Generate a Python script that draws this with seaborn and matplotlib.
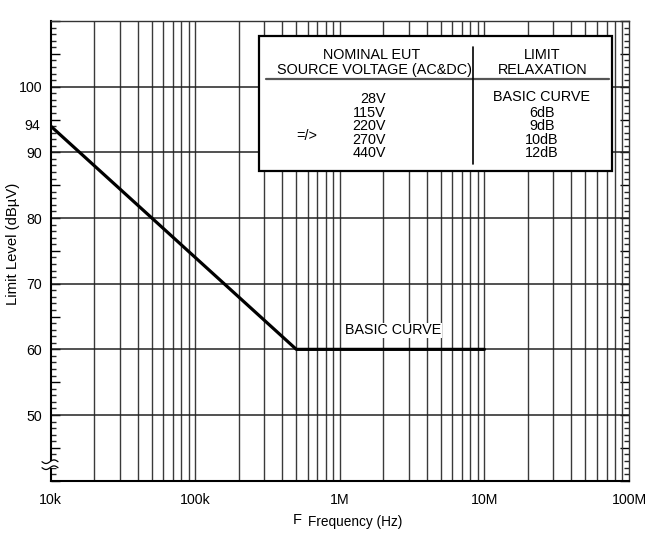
import numpy as np
import matplotlib
matplotlib.use("Agg")
import matplotlib.pyplot as plt
import matplotlib.ticker as mticker
import seaborn as sns

# ---- data ----
freq_hz = [1e4, 5e5, 1e7]
limit_dbuv = [94, 60, 60]
x_tick_vals = [1e4, 1e5, 1e6, 1e7, 1e8]
x_tick_labels = ["10k", "100k", "1M", "10M", "100M"]
y_label_vals = [50, 60, 70, 80, 90, 100]
voltages = ["28V", "115V", "220V", "270V", "440V"]
relaxations = ["BASIC CURVE", "6dB", "9dB", "10dB", "12dB"]

sns.set_theme(style="white")
plt.rcParams["font.family"] = ["Liberation Sans", "DejaVu Sans"]

W, H = 656, 545
fig = plt.figure(figsize=(W / 100, H / 100), dpi=100)
L, R, T, B = 50.7, 629.0, 21.0, 480.7
ax = fig.add_axes([L / W, (H - B) / H, (R - L) / W, (B - T) / H])

def ax_xy(px, py):
    return (px - L) / (R - L), (B - py) / (B - T)

sns.lineplot(x=freq_hz, y=limit_dbuv, ax=ax, color="black", lw=2.3, zorder=5)

ax.set_xscale("log")
ax.set_xlim(1e4, 1e8)
ax.set_ylim(40, 110)

# grid
for xv in [m * 10 ** e for e in range(4, 8) for m in range(1, 10)][1:]:
    ax.axvline(xv, color="#3a3a3a", lw=1.0, zorder=1)
for yv in range(50, 111, 10):
    ax.axhline(yv, color="#222222", lw=1.1, zorder=1)

# x ticks
ax.xaxis.set_major_locator(mticker.FixedLocator(x_tick_vals))
ax.xaxis.set_major_formatter(mticker.FixedFormatter(x_tick_labels))
ax.xaxis.set_minor_locator(mticker.NullLocator())
ax.tick_params(axis="x", which="both", length=0, pad=9, labelsize=10.2, colors="black")

# y ticks
ax.yaxis.set_major_locator(mticker.MultipleLocator(5))
ax.yaxis.set_minor_locator(mticker.MultipleLocator(1))
ax.yaxis.set_major_formatter(mticker.FuncFormatter(
    lambda v, p: f"{int(round(v))}" if int(round(v)) in y_label_vals else ""))
ax.tick_params(axis="y", which="major", direction="in", length=6.5, width=1.0,
               left=True, right=True, labelsize=10.2, pad=6, colors="black")
ax.tick_params(axis="y", which="minor", direction="in", length=3.5, width=1.0,
               left=True, right=True)
for lab in ax.get_yticklabels() + ax.get_xticklabels():
    lab.set_color("black")
ax.text(-0.018, 94, "94", transform=ax.get_yaxis_transform(), ha="right",
        va="center", fontsize=10.2, color="black")

for s in ["left", "bottom"]:
    ax.spines[s].set_color("black")
    ax.spines[s].set_linewidth(1.5)
for s in ["top", "right"]:
    ax.spines[s].set_color("#333333")
    ax.spines[s].set_linewidth(1.0)

# table box
x0, y0 = ax_xy(259, 171)
x1, y1 = ax_xy(612, 36)
ax.add_patch(plt.Rectangle((x0, y0), x1 - x0, y1 - y0, transform=ax.transAxes,
                           facecolor="white", edgecolor="black", lw=1.6, zorder=6))
fs = 10.4
def t(px, py, s, ha="center"):
    xx, yy = ax_xy(px, py)
    ax.text(xx, yy, s, transform=ax.transAxes, ha=ha, va="center",
            fontsize=fs, color="black", zorder=7)

t(371.7, 55, "NOMINAL EUT")
t(374.5, 70, "SOURCE VOLTAGE (AC&DC)")
t(541.7, 55, "LIMIT")
t(543, 70, "RELAXATION")
hx0, hy = ax_xy(266, 79.3)
hx1, _ = ax_xy(609, 79.3)
ax.plot([hx0, hx1], [hy, hy], transform=ax.transAxes, color="#555555", lw=1.6, zorder=7)
vx, vy0 = ax_xy(473.3, 164)
_, vy1 = ax_xy(473.3, 46.7)
ax.plot([vx, vx], [vy0, vy1], transform=ax.transAxes, color="black", lw=1.2, zorder=7)
vy_rows = [99.3, 112.6, 126.0, 139.5, 153.3]
rel_rows = [96.7, 112.6, 126.0, 139.5, 153.3]
for v, py in zip(voltages, vy_rows):
    t(386, py, v, ha="right")
for r, py in zip(relaxations, rel_rows):
    t(542, py, r)
t(306.7, 136, "=/>")

# BASIC CURVE label on curve
ax.text(2.33e6, 62.9, "BASIC CURVE", ha="center", va="center", fontsize=10.3,
        color="black", zorder=8,
        bbox=dict(facecolor="white", edgecolor="none", pad=0.5))

# axis labels
fig.text(293 / W, 1 - 520 / H, "F", ha="left", va="center", fontsize=10.5, color="black")
fig.text(308 / W, 1 - 521.7 / H, "Frequency (Hz)", ha="left", va="center",
         fontsize=9.8, color="black")
fig.text(13 / W, 1 - 244 / H, "Limit Level (dB\u00b5V)", rotation=90, ha="center",
         va="center", fontsize=10.7, color="black")

# axis break mark
bx0, by0 = ax_xy(44, 468)
bx1, by1 = ax_xy(58, 461)
ax.add_patch(plt.Rectangle((bx0, by0), bx1 - bx0, by1 - by0, transform=ax.transAxes,
                           facecolor="white", edgecolor="none", zorder=9, clip_on=False))
s = np.linspace(0, 1, 40)
for py in [461.7, 467.7]:
    xs = (42 + 16 * s - L) / (R - L)
    ys = (B - (py + 1.8 * np.sin(2 * np.pi * s))) / (B - T)
    ax.plot(xs, ys, transform=ax.transAxes, color="black", lw=0.9, zorder=10, clip_on=False)

fig.savefig("out.png", dpi=100)
